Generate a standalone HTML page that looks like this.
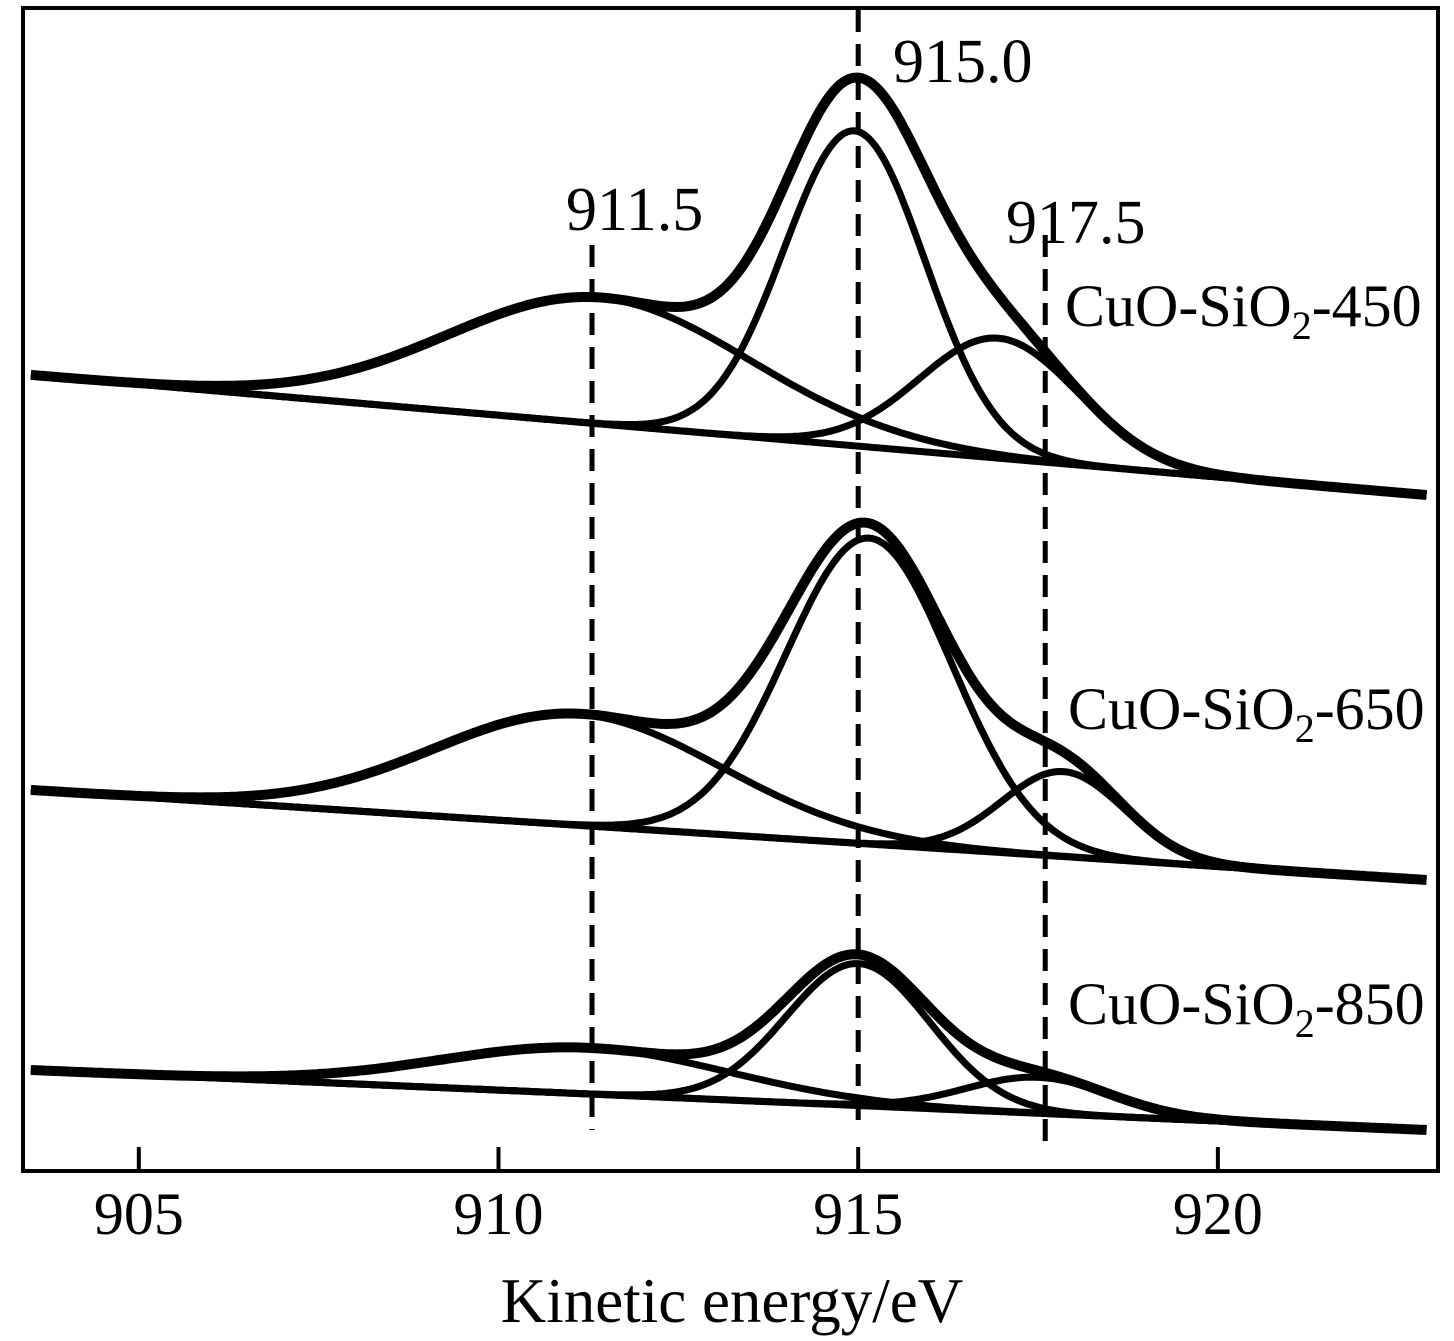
<!DOCTYPE html>
<html><head><meta charset="utf-8"><style>
body{margin:0;background:#fff}
svg{display:block}
text{font-family:"Liberation Serif",serif;fill:#000}
</style></head><body>
<svg id="chart" width="1454" height="1341" viewBox="0 0 1454 1341">
<rect x="23" y="8" width="1415" height="1163" fill="none" stroke="#000" stroke-width="4"/>
<g id="ticks"></g>
<g id="curves"></g>
<g id="refs"></g>
<text x="732" y="1322" font-size="63" text-anchor="middle">Kinetic energy/eV</text>
<text x="893" y="82" font-size="62">915.0</text>
<text x="566" y="230" font-size="62">911.5</text>
<text x="1006" y="243" font-size="62">917.5</text>
<text x="1065" y="326" font-size="60">CuO-SiO<tspan font-size="40" dy="13">2</tspan><tspan dy="-13">-450</tspan></text>
<text x="1068" y="729" font-size="60">CuO-SiO<tspan font-size="40" dy="13">2</tspan><tspan dy="-13">-650</tspan></text>
<text x="1068" y="1024" font-size="60">CuO-SiO<tspan font-size="40" dy="13">2</tspan><tspan dy="-13">-850</tspan></text>
</svg>
<script>
const tickValues=[905,910,915,920];
const refLines=[911.3,915.0,917.6];
const sampleNames=["450","650","850"];
const baseLeft=[375,790,1070];
const baseRight=[495,880,1130];
const centers450=[911.4,914.95,916.95];
const heights450=[126,315,120];
const sigmas450=[2.1,0.98,1.1];
const centers650=[911.1,915.15,917.85];
const heights650=[111,306,85];
const sigmas650=[2.0,1.15,0.85];
const centers850=[911.2,915.0,917.5];
const heights850=[46,142,36];
const sigmas850=[2.0,1.0,1.0];

const X0=903.39,X1=923.06,PX0=23,PX1=1438;
function xs(v){return PX0+(v-X0)/(X1-X0)*(PX1-PX0);}
const E0=903.5,E1=922.9;
const NS="http://www.w3.org/2000/svg";
function mk(tag,attrs,parent){const e=document.createElementNS(NS,tag);for(const k in attrs)e.setAttribute(k,attrs[k]);parent.appendChild(e);return e;}

const tg=document.getElementById('ticks');
tickValues.forEach(v=>{
  const l=mk('line',{x1:xs(v),x2:xs(v),y1:1171,y2:1147,stroke:'#000','stroke-width':4},tg);
  
  
  const t=mk('text',{x:xs(v),y:1234,'font-size':60,'text-anchor':'middle'},tg);
  t.textContent=v;
  
  
});

const rg=document.getElementById('refs');
const refTop=[245,10,235],refBot=[1130,1130,1145];
refLines.forEach((v,i)=>{
  const l=mk('line',{x1:xs(v),x2:xs(v),y1:refTop[i],y2:refBot[i],stroke:'#000','stroke-width':5,'stroke-dasharray':'22 12'},rg);
  
  
});

const cg=document.getElementById('curves');
const sets=[[centers450,heights450,sigmas450],[centers650,heights650,sigmas650],[centers850,heights850,sigmas850]];
sets.forEach((s,si)=>{
  const [c,h,sg]=s;
  const base=e=>baseLeft[si]+(baseRight[si]-baseLeft[si])*(e-E0)/(E1-E0);
  const comp=(k,e)=>h[k]*Math.exp(-Math.pow(e-c[k],2)/(2*sg[k]*sg[k]));
  const N=400;
  const path=f=>{let d='';for(let i=0;i<=N;i++){const e=E0+(E1-E0)*i/N;d+=(i?'L':'M')+xs(e).toFixed(1)+','+f(e).toFixed(1);}return d;};
  const b=mk('path',{d:path(base),fill:'none',stroke:'#000','stroke-width':7},cg);
  
  
  for(let k=0;k<c.length;k++){
    const p=mk('path',{d:path(e=>base(e)-comp(k,e)),fill:'none',stroke:'#000','stroke-width':7},cg);
    
    
  }
  const env=mk('path',{d:path(e=>{let s=0;for(let k=0;k<c.length;k++)s+=comp(k,e);return base(e)-s;}),fill:'none',stroke:'#000','stroke-width':10,'stroke-linejoin':'round'},cg);
  
  
});
</script>
</body></html>
